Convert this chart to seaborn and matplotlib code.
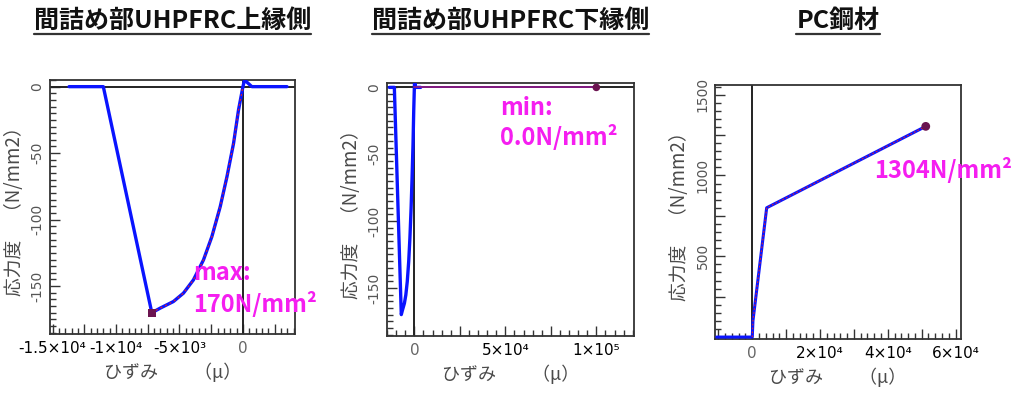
import numpy as np
import pandas as pd
import matplotlib
matplotlib.use("Agg")
import matplotlib.pyplot as plt
from matplotlib.lines import Line2D
from matplotlib.ticker import MultipleLocator, FuncFormatter
import seaborn as sns

# ---------------- data ----------------
titles = ["間詰め部UHPFRC上縁側", "間詰め部UHPFRC下縁側", "PC鋼材"]
xlabel_text = "ひずみ　　（μ）"
ylabel_text = "応力度　（N/mm2）"

# UHPFRC stress-strain history (shared by upper / lower fibre panels)
uhp_strain = [-13700, -11000, -7180, -6530, -5480, -4690, -3900, -3110, -2450, -1790, -1260, -740, -350, 0, 120, 700, 3470]
uhp_stress = [0, 0, -170, -166.6, -161.6, -155.3, -145.3, -130.3, -112.8, -90.2, -67.7, -42.6, -17.5, 0, 5, 0, 0]
# current path, upper fibre (unloading branch)
upper_path_strain = [-7180, -6530, -5480, -4690, -3900, -3110, -2450, -1790, -1260, -740, -350, 0]
upper_path_stress = [-170, -166.6, -161.6, -155.3, -145.3, -130.3, -112.8, -90.2, -67.7, -42.6, -17.5, 0]
upper_point_strain = [-7180]
upper_point_stress = [-170]
# current path, lower fibre
lower_path_strain = [0, 100000]
lower_path_stress = [0, 0]
lower_point_strain = [100000]
lower_point_stress = [0]
# PC steel
pc_strain = [-10500, 0, 200, 4250, 51200]
pc_stress = [0, 0, 100, 800, 1304]
pc_point_strain = [51200]
pc_point_stress = [1304]

annot_texts = [["max:", "170N/mm²"], ["min:", "0.0N/mm²"], ["1304N/mm²"]]

x1_ticks = [-15000, -10000, -5000, 0]
x1_labels = ["-1.5×10⁴", "-1×10⁴", "-5×10³", "0"]
x2_ticks = [0, 50000, 100000]
x2_labels = ["0", "5×10⁴", "1×10⁵"]
x3_ticks = [0, 20000, 40000, 60000]
x3_labels = ["0", "2×10⁴", "4×10⁴", "6×10⁴"]
y12_ticks = [0, -50, -100, -150]
y12_labels = ["0", "-50", "-100", "-150"]
y3_ticks = [500, 1000, 1500]
y3_labels = ["500", "1000", "1500"]

# ---------------- style ----------------
sns.set_style("white")
plt.rcParams['font.family'] = ['DejaVu Sans', 'Noto Sans CJK JP']
plt.rcParams['axes.unicode_minus'] = False

W, H = 1013, 393
fig = plt.figure(figsize=(W / 100, H / 100), dpi=100)

def rect(l, t, r, b):
    return [l / W, 1 - b / H, (r - l) / W, (b - t) / H]

ax1 = fig.add_axes(rect(50, 80, 295, 334))
ax2 = fig.add_axes(rect(386.7, 82.7, 634, 336))
ax3 = fig.add_axes(rect(715, 85, 961, 339))
axes = [ax1, ax2, ax3]

BLUE = "#0a14ff"
RED = "#e0202a"
PURPLE = "#6b1450"
MAG = "#f51ef0"
GRAY = "#4a4a4a"
CJK = ['Noto Sans CJK JP', 'DejaVu Sans']

def label_formatter(ticks, labels):
    d = {float(t): l for t, l in zip(ticks, labels)}
    def f(v, p):
        for k, l in d.items():
            if abs(v - k) < 1e-6 * max(1, abs(k)):
                return l
        return ""
    return FuncFormatter(f)

# panel 1
sns.lineplot(x=uhp_strain, y=uhp_stress, sort=False, estimator=None, color=BLUE, lw=2.4, ax=ax1, zorder=3)
sns.lineplot(x=upper_path_strain, y=upper_path_stress, sort=False, estimator=None, color=RED, lw=0.9,
             linestyle=(0, (1.5, 2.5)), ax=ax1, zorder=4)
sns.scatterplot(x=upper_point_strain, y=upper_point_stress, marker='s', s=30, color=PURPLE, edgecolor='none', ax=ax1, zorder=5)
ax1.set_xlim(-15200, 4100)
ax1.set_ylim(-186, 5)

# panel 2
sns.lineplot(x=uhp_strain, y=uhp_stress, sort=False, estimator=None, color=BLUE, lw=2.4, ax=ax2, zorder=3)
sns.lineplot(x=lower_path_strain, y=lower_path_stress, sort=False, estimator=None, color="#8a1a8a", lw=1.3, ax=ax2, zorder=4)
sns.scatterplot(x=lower_point_strain, y=lower_point_stress, marker='o', s=30, color=PURPLE, edgecolor='none', ax=ax2, zorder=5)
ax2.set_xlim(-15200, 120700)
ax2.set_ylim(-186, 3.5)

# panel 3
sns.lineplot(x=pc_strain, y=pc_stress, sort=False, estimator=None, color=BLUE, lw=2.2, ax=ax3, zorder=3)
sns.lineplot(x=pc_strain[1:], y=pc_stress[1:], sort=False, estimator=None, color=RED, lw=0.8,
             linestyle=(0, (1.5, 2.0)), ax=ax3, zorder=4)
sns.scatterplot(x=pc_point_strain, y=pc_point_stress, marker='o', s=40, color=PURPLE, edgecolor='none', ax=ax3, zorder=5)
ax3.set_xlim(-11000, 61600)
ax3.set_ylim(-12, 1560)

tick_cfg = [
    (ax1, 2500, 500, x1_ticks, x1_labels, 50, 5, y12_ticks, y12_labels),
    (ax2, 25000, 5000, x2_ticks, x2_labels, 50, 5, y12_ticks, y12_labels),
    (ax3, 10000, 2000, x3_ticks, x3_labels, 250, 50, y3_ticks, y3_labels),
]
for ax, xmaj, xmin, xt, xl, ymaj, ymin, yt, yl in tick_cfg:
    ax.xaxis.set_major_locator(MultipleLocator(xmaj))
    ax.xaxis.set_minor_locator(MultipleLocator(xmin))
    ax.xaxis.set_major_formatter(label_formatter(xt, xl))
    ax.yaxis.set_major_locator(MultipleLocator(ymaj))
    ax.yaxis.set_minor_locator(MultipleLocator(ymin))
    ax.yaxis.set_major_formatter(label_formatter(yt, yl))
    ax.tick_params(which='both', direction='in', color='#333333', width=1.0,
                   bottom=True, left=True, top=False, right=False)
    ax.tick_params(which='major', length=7.5)
    ax.tick_params(which='minor', length=4)
    ax.tick_params(axis='x', which='major', labelsize=11, pad=5, labelcolor='black')
    ax.tick_params(axis='y', which='major', labelsize=10, pad=4, labelcolor='#555555', labelrotation=90)
    for sp in ax.spines.values():
        sp.set_color('#333333')
        sp.set_linewidth(1.3)
        sp.set_visible(True)
    ax.axvline(0, color='#222222', lw=1.4, zorder=2)
    ax.set_xlabel(xlabel_text, family=CJK, fontsize=13, color=GRAY, labelpad=5)
    ax.set_ylabel(ylabel_text, family=CJK, fontsize=13.5, color=GRAY, labelpad=4)
    for t in ax.get_yticklabels():
        t.set_va('center')

ax1.axhline(0, color='#222222', lw=1.4, zorder=2)
ax2.axhline(0, color='#222222', lw=1.4, zorder=2)

# annotations (axes-fraction positions)
ann_kw = dict(color=MAG, fontsize=17, family=CJK, fontweight='bold', va='baseline', ha='left',
              zorder=6, clip_on=False)
ax1.text(0.584, 0.213, annot_texts[0][0], transform=ax1.transAxes, **ann_kw)
ax1.text(0.584, 0.088, annot_texts[0][1], transform=ax1.transAxes, **ann_kw)
ax2.text(0.458, 0.8725, annot_texts[1][0], transform=ax2.transAxes, **ann_kw)
ax2.text(0.458, 0.754, annot_texts[1][1], transform=ax2.transAxes, **ann_kw)
ax3.text(0.646, 0.633, annot_texts[2][0], transform=ax3.transAxes, **ann_kw)

# titles with underline
title_objs = []
for ax, t in zip(axes, titles):
    pos = ax.get_position()
    cx = (pos.x0 + pos.x1) / 2
    title_objs.append(fig.text(cx, 1 - 21 / H, t, ha='center', va='center', family=CJK,
                               fontsize=18, fontweight='bold', color='#111111'))

fig.canvas.draw()
renderer = fig.canvas.get_renderer()
for to in title_objs:
    bb = to.get_window_extent(renderer)
    yline = 1 - 34 / H
    fig.add_artist(Line2D([bb.x0 / W, bb.x1 / W], [yline, yline], transform=fig.transFigure,
                          color='#333333', lw=1.6))

for ax in axes:
    for lbl in ax.get_xticklabels():
        if lbl.get_text() == "0":
            lbl.set_color('#666666')

fig.savefig("out.png", dpi=100)
